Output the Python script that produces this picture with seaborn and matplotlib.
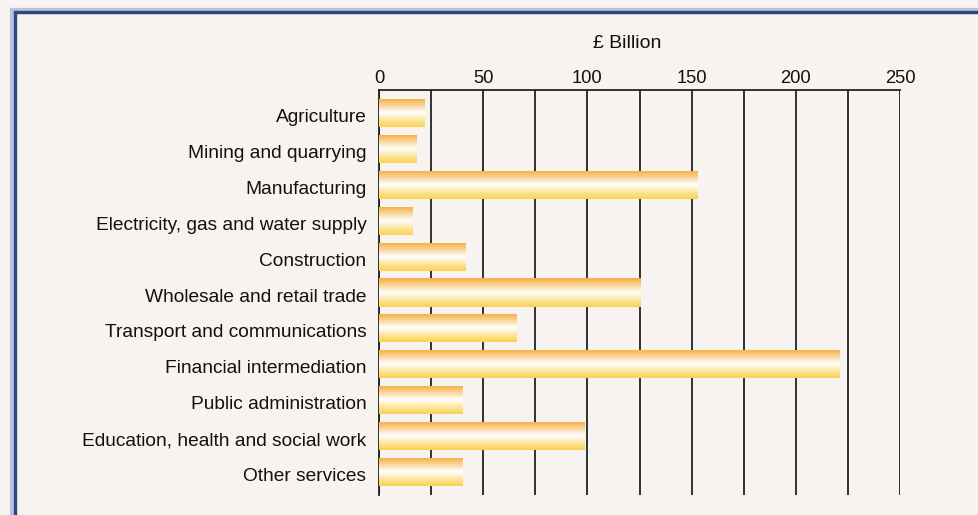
import numpy as np
import matplotlib
matplotlib.use("Agg")
import matplotlib.pyplot as plt
import matplotlib.transforms as mtransforms
import seaborn as sns
import pandas as pd
from matplotlib.colors import LinearSegmentedColormap
from matplotlib.patches import Rectangle

categories = ["Agriculture", "Mining and quarrying", "Manufacturing",
              "Electricity, gas and water supply", "Construction",
              "Wholesale and retail trade", "Transport and communications",
              "Financial intermediation", "Public administration",
              "Education, health and social work", "Other services"]
values = [21.6, 17.8, 153, 16.3, 41.7, 125.7, 66.2, 221, 40.3, 98.4, 40.3]
xticks = [0, 50, 100, 150, 200, 250]

df = pd.DataFrame({"sector": categories, "value": values})

sns.set_theme(style="white")
plt.rcParams['font.family'] = ['Liberation Sans', 'DejaVu Sans']

bg = "#f6f3f0"
fig = plt.figure(figsize=(9.79, 5.15), dpi=100, facecolor=bg)
ax = fig.add_axes([379/979, 1-495/515, (900-379)/979, (495-90)/515])
ax.set_facecolor(bg)

sns.barplot(data=df, x="value", y="sector", orient="h", ax=ax,
            color="#f8c050", width=0.78, zorder=2)

cmap = LinearSegmentedColormap.from_list(
    "g", ["#f4ac38", "#fad49a", "#ffffff", "#fce6a0", "#f9d250"])
grad = np.linspace(0, 1, 256).reshape(-1, 1)
for p in list(ax.patches):
    x0, y0 = p.get_x(), p.get_y()
    w, h = p.get_width(), p.get_height()
    im = ax.imshow(grad, cmap=cmap, aspect="auto",
                   extent=(x0, x0 + w, y0 + h, y0), origin="upper", zorder=3)
    im.set_clip_path(p)
    p.set_edgecolor("none")

ax.set_xlim(0, 250)
ax.set_ylim(10.64, -0.64)
ax.set_xticks(np.arange(0, 251, 25))
ax.set_xticklabels([str(int(t)) if t in xticks else "" for t in np.arange(0, 251, 25)])
ax.xaxis.tick_top()
ax.tick_params(axis="x", length=0, pad=2, labelsize=13.2, colors="#111111")
ax.tick_params(axis="y", length=0, pad=9, labelsize=13.8, colors="#111111")
offset = mtransforms.ScaledTranslation(0, -2.5/100, fig.dpi_scale_trans)
for lab in ax.get_yticklabels():
    lab.set_transform(lab.get_transform() + offset)
ax.grid(axis="x", color="#222222", linewidth=1.3, zorder=0)
ax.set_axisbelow(True)
ax.set_xlabel("")
ax.set_ylabel("")
for s in ["right", "bottom"]:
    ax.spines[s].set_visible(False)
ax.spines["left"].set_color("#222222")
ax.spines["left"].set_linewidth(1.3)
ax.spines["top"].set_color("#222222")
ax.spines["top"].set_linewidth(1.3)

fig.text(627/979, 1-43/515, "£ Billion", ha="center", va="center",
         fontsize=14, color="#111111")

# frame
fig.add_artist(Rectangle((13.5/979, -0.2), 1.2, 1.2 - 10.5/515,
                         transform=fig.transFigure, fill=False,
                         edgecolor="#b8c2da", linewidth=4.5, zorder=0))
fig.add_artist(Rectangle((15/979, -0.2), 1.2, 1.2 - 12/515,
                         transform=fig.transFigure, fill=False,
                         edgecolor="#2e4783", linewidth=2.4, zorder=1))

fig.savefig("out.png", dpi=100, facecolor=fig.get_facecolor())
